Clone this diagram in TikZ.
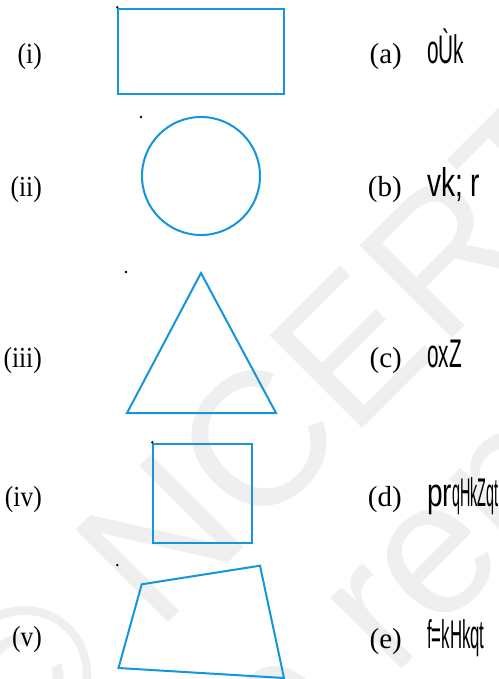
\documentclass[tikz,border=0pt]{standalone}
\usepackage{fontspec}
\usepackage{graphicx}
\setmainfont{Liberation Serif}
\newfontfamily\hsans{Liberation Sans}
\definecolor{shapeblue}{RGB}{20,150,220}
\definecolor{wmgray}{RGB}{239,239,239}
\begin{document}
\begin{tikzpicture}[x=1pt,y=-1pt,
  figline/.style={draw=shapeblue,line width=2pt,line join=miter},
  romlab/.style={anchor=base east,inner sep=0pt,font=\fontsize{29}{31}\selectfont},
  letlab/.style={anchor=base east,inner sep=0pt,font=\fontsize{29}{31}\selectfont},
  hin/.style={anchor=base west,inner sep=0pt,font=\hsans\fontsize{40}{42}\selectfont},
  wmark/.style={anchor=base west,inner sep=0pt,text=wmgray,rotate=45,font=\hsans\fontsize{190}{190}\selectfont},
  blackdot/.style={fill=black}]
\useasboundingbox[fill=white] (0,0) rectangle (498,679);
\begin{scope}
\clip (0,0) rectangle (498,679);
\node[wmark] (wm1) at (21.3,769.9) {© NCERT};
\node[wmark] (wm2) at (-168,1239) {not to be republished};
\end{scope}
% shapes
\draw[figline] (118.3,9) rectangle (284,94);
\draw[figline] (201,176) circle[radius=59];
\draw[figline] (201,273) -- (127,413) -- (276,413) -- cycle;
\draw[figline] (152.5,443.5) rectangle (251.5,542.5);
\draw[figline] (141.7,584.3) -- (260,565.7) -- (284,678) -- (118.5,668) -- cycle;
% dots
\fill[blackdot] (117.3,7.3) circle[radius=1.3];
\fill[blackdot] (141,117) circle[radius=1.3];
\fill[blackdot] (126,272) circle[radius=1.3];
\fill[blackdot] (152.3,442.3) circle[radius=1.3];
\fill[blackdot] (117.3,565) circle[radius=1.3];
% left labels
\node[romlab] (li) at (42,64) {\scalebox{0.88}[1]{(i)}};
\node[romlab] (lii) at (42,196) {\scalebox{0.88}[1]{(ii)}};
\node[romlab] (liii) at (42,367) {\scalebox{0.88}[1]{(iii)}};
\node[romlab] (liv) at (42,506) {\scalebox{0.88}[1]{(iv)}};
\node[romlab] (lv) at (42,646) {\scalebox{0.88}[1]{(v)}};
% right labels
\node[letlab] (la) at (402,64) {(a)};
\node[letlab] (lb) at (402,196) {(b)};
\node[letlab] (lc) at (402,367) {(c)};
\node[letlab] (ld) at (402,506) {(d)};
\node[letlab] (le) at (402,648) {(e)};
% words
\node[hin] (ha) at (427,64) {\scalebox{0.52}[1]{oÙk}};
\node[hin] (hb) at (427,196) {\scalebox{0.7}[1]{vk; r}};
\node[hin] (hc) at (427,367) {\scalebox{0.52}[1]{oxZ}};
\node[hin] (hd) at (427,506) {\scalebox{0.7}[1]{pr}\scalebox{0.36}[1]{qHkZqt}};
\node[hin] (he) at (427,648) {\scalebox{0.42}[1]{f=kHkqt}};
\end{tikzpicture}
\end{document}
